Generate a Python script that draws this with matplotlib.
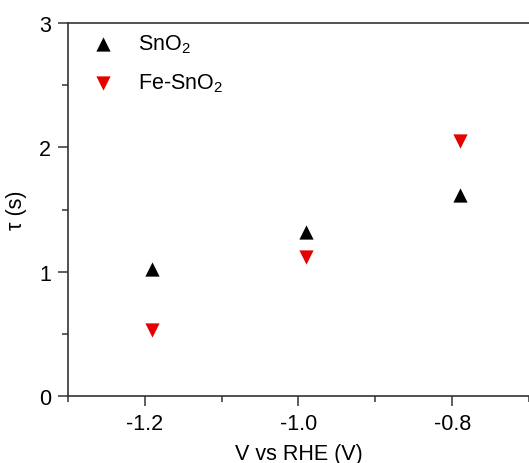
import numpy as np
import matplotlib.pyplot as plt
from matplotlib.ticker import MultipleLocator

plt.rcParams['font.family'] = ['Liberation Sans', 'DejaVu Sans']
plt.rcParams['mathtext.fontset'] = 'custom'
plt.rcParams['mathtext.rm'] = 'Liberation Sans'

# data
potential = [-1.19, -0.99, -0.79]
tau_sno2 = [1.02, 1.32, 1.62]
tau_fe_sno2 = [0.53, 1.12, 2.05]

fig = plt.figure(figsize=(5.29, 4.64), dpi=100)
ax = fig.add_axes([0.1285, 0.1444, 0.8715, 0.8036])

ax.scatter(potential, tau_sno2, marker='^', s=105, color='black', linewidths=0, label='SnO$_\\mathrm{2}$')
ax.scatter(potential, tau_fe_sno2, marker='v', s=105, color='#e60000', linewidths=0, label='Fe-SnO$_\\mathrm{2}$')

ax.set_xlim(-1.3, -0.7)
ax.set_ylim(0, 3)
ax.set_xticks([-1.2, -1.0, -0.8])
ax.set_xticklabels(['-1.2', '-1.0', '-0.8'])
ax.set_yticks([0, 1, 2, 3])
ax.xaxis.set_minor_locator(MultipleLocator(0.1))
ax.yaxis.set_minor_locator(MultipleLocator(0.5))
ax.tick_params(which='major', direction='out', length=7, width=1.1, labelsize=15.5, color='#333333', pad=5)
ax.tick_params(which='minor', direction='out', length=4, width=1.1, color='#333333')
for s in ax.spines.values():
    s.set_linewidth(1.2)
    s.set_color('#333333')
ax.spines['right'].set_visible(False)

ax.set_xlabel('V vs RHE (V)', fontsize=15.5, labelpad=7)
ax.set_ylabel('τ (s)', fontsize=15.5, labelpad=9)

ax.legend(loc='upper left', frameon=False, fontsize=15.5, handletextpad=0.6,
          borderaxespad=0, borderpad=0, labelspacing=0.75, handlelength=2.0,
          bbox_to_anchor=(0.03, 0.975))

plt.savefig('out.png', dpi=100)
